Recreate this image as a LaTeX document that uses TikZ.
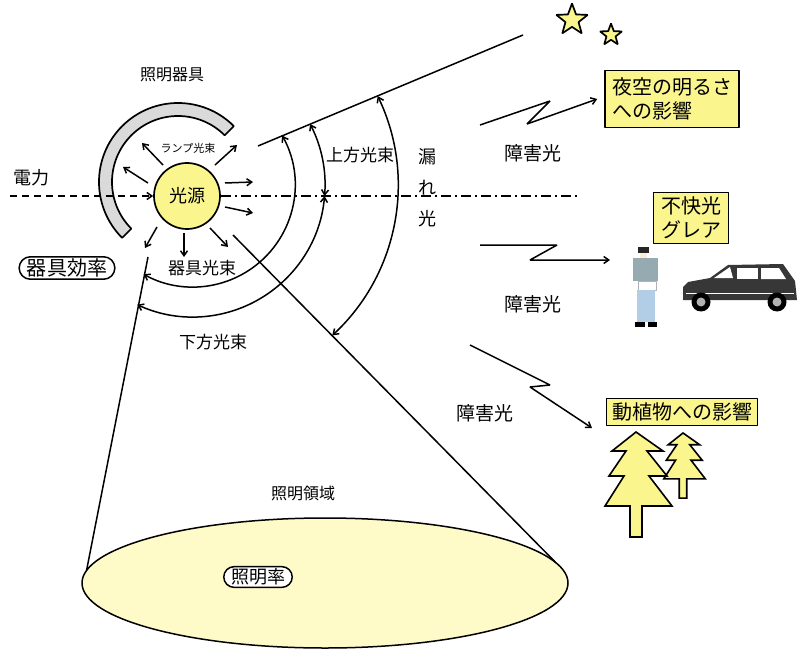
\documentclass[tikz,border=0pt]{standalone}
\usepackage{fontspec}
\setmainfont{Noto Sans CJK JP}
\usepackage{tikz}
\usetikzlibrary{arrows.meta,calc,shapes.geometric,shapes.misc,positioning}

\definecolor{lampyellow}{RGB}{250,245,140}
\definecolor{fieldyellow}{RGB}{255,251,200}
\definecolor{shadegray}{RGB}{218,218,218}
\definecolor{shirtgray}{RGB}{150,170,178}
\definecolor{jeansblue}{RGB}{178,206,230}
\definecolor{cardark}{RGB}{55,55,55}

\tikzset{
  firtree/.pic={
    \draw[line width=1.6pt,fill=lampyellow,line join=miter]
      (0,0) -- (27,-19) -- (11,-19) -- (31,-44) -- (13,-44) -- (36,-74) -- (6,-74) -- (6,-105)
      -- (-6,-105) -- (-6,-74) -- (-31,-74) -- (-12,-44) -- (-27,-44) -- (-10,-19) -- (-24,-19) -- cycle;
  }
}

\begin{document}
\begin{tikzpicture}[x=1pt,y=1pt,>={Straight Barb[length=5pt,width=7pt]},line join=bevel,line width=1.5pt,
  lbl/.style={inner sep=1pt,font=\fontsize{17}{17}\selectfont},
  effbox/.style={draw,rounded rectangle,fill=white,line width=1.5pt,inner xsep=3pt,inner ysep=2pt},
  infobox/.style={draw,fill=lampyellow,line width=1.5pt,inner sep=3pt,align=left,font=\fontsize{20}{24}\selectfont},
  zap/.style={->,line width=1.5pt}]
\useasboundingbox (0,0) rectangle (797,649);

% lit area on the ground
\node [ellipse,draw,fill=fieldyellow,minimum width=486pt,minimum height=130pt,inner sep=0,outer sep=0] at (325,66) (field) {};
\node [lbl,font=\fontsize{16}{16}\selectfont] at (303,156) (fieldl) {照明領域};
\node [effbox,font=\fontsize{18}{18}\selectfont] at (258,72) (util) {照明率};

% luminaire shade
\coordinate (rc) at (178,467);
\draw [fill=shadegray,line width=1.7pt] ($(rc)+(45:79)$) arc[start angle=45,end angle=225,radius=79]
  -- ($(rc)+(225:66)$) arc[start angle=225,end angle=45,radius=66] -- cycle;
\node [lbl,font=\fontsize{16}{16}\selectfont] at (172,574) (luml) {照明器具};

% lamp
\node [circle,draw,fill=lampyellow,minimum size=66pt,line width=1.7pt,font=\fontsize{18}{18}\selectfont] at (187,453) (lamp) {光源};
\node [font=\fontsize{11}{11}\selectfont] at (188,501) (lampl) {ランプ光束};
\foreach \sx/\sy/\ex/\ey in {-24/31/-45/53, -39/13/-64/29, 28/31/50/51, 38/13/66/14,
    38/-11/66/-17, -30/-31/-42/-52, -3/-37/-3/-61, 23/-32/41/-51}
  \draw [->] ($(lamp)+(\sx,\sy)$) -- ($(lamp)+(\ex,\ey)$);

\coordinate (pw) at (10,453);
\coordinate (axis) at (577,453);
\draw [->,dash pattern=on 7pt off 5pt] (pw) -- (lamp.west);
\draw [dash pattern=on 10pt off 4pt on 2pt off 4pt] (lamp.east) -- (axis);
\node [lbl,font=\fontsize{18}{18}\selectfont] at (31,471) (pwl) {電力};

\node [lbl] at (202,381) (fixl) {器具光束};
\node [effbox,font=\fontsize{20}{20}\selectfont] at (67,381) (eff) {器具効率};

% beam limits
\coordinate (up0) at (258,503);
\coordinate (up1) at (523,614);
\coordinate (dl) at (148,392);
\coordinate (dr) at (233,414);
\draw (up0) -- (up1);
\draw (dl) -- (field.177);
\draw (dr) -- (field.5);

% flux arcs
\coordinate (c) at (193,464);
\draw [<->] ($(c)+(29:102)$) arc[start angle=29,end angle=-119,radius=102];
\draw [<->] ($(c)+(27.5:132)$) arc[start angle=27.5,end angle=-4.8,radius=132];
\draw [<->] ($(c)+(-4.8:132)$) arc[start angle=-4.8,end angle=-115,radius=132];
\draw [<->] ($(c)+(25.7:205)$) arc[start angle=25.7,end angle=-47.2,radius=205];
\node [lbl] at (360,494) (upl) {上方光束};
\node [lbl] at (213,307) (downl) {下方光束};
\node [font=\fontsize{18}{31}\selectfont,align=center,inner sep=0] at (427,461) (leak) {漏\\れ\\光};

% stray light
\node [star,star points=5,star point ratio=2.4,minimum size=33pt,inner sep=0,draw,line width=1.7pt,fill=lampyellow] at (572,629) (st1) {};
\node [star,star points=5,star point ratio=2.4,minimum size=23pt,inner sep=0,draw,line width=1.7pt,fill=lampyellow] at (611,614) (st2) {};
\node [infobox,minimum width=134pt,minimum height=57pt] at (672,550) (sky) {夜空の明るさ\\への影響};
\node [infobox,minimum width=75pt,minimum height=51pt] at (691,431) (glare) {不快光\\グレア};
\node [infobox,minimum width=151pt,minimum height=27pt,inner ysep=1pt] at (682,237) (fauna) {動植物への影響};

\coordinate (z1) at (480,524);
\coordinate (z2) at (480,404);
\coordinate (g2) at (610,389);
\coordinate (z3) at (470,304);
\coordinate (g3) at (592,221);
\draw [zap] (z1) -- ++(70,24) -- ++(-23,-23) -- ([xshift=-7pt]sky.west);
\draw [zap] (z2) -- ++(77,0) -- ++(-27,-15) -- (g2);
\draw [zap] (z3) -- ++(80,-40) -- ++(-20,-2) -- (g3);
\node [lbl,font=\fontsize{19}{19}\selectfont] at (533,496) (h1) {障害光};
\node [lbl,font=\fontsize{19}{19}\selectfont] at (533,345) (h2) {障害光};
\node [lbl,font=\fontsize{19}{19}\selectfont] at (485,236) (h3) {障害光};

% pedestrian
\fill [black!85] (638,396) rectangle (649,402);
\fill [orange!15] (640,391) rectangle (647,396);
\fill [shirtgray] (633,368) rectangle (658,391);
\filldraw [fill=white,draw=gray!60,line width=0.5pt] (638,359) rectangle (656,368);
\fill [jeansblue] (637,327) rectangle (655,359);
\fill [black] (635,322) rectangle (645,327);
\fill [black] (648,322) rectangle (657,327);

% car
\fill [cardark] (683,349) -- (683,362) -- (688,367) -- (710,371) -- (728,384) -- (783,385) -- (795,368) -- (797,349) -- cycle;
\fill [white] (714,371) -- (730,382) -- (733,371) -- cycle;
\fill [white] (737,370) rectangle (758,381);
\fill [white] (761,370) -- (761,381) -- (779,381) -- (786,370) -- cycle;
\draw [white,line width=0.8pt] (686,356) -- (794,356);
\foreach \wx in {701,777} {
  \fill [black] (\wx,347) circle (9.5);
  \fill [gray!60] (\wx,347) circle (4.5);
}

% trees
\pic [scale=0.62] at (683,216) {firtree};
\pic at (636,217) {firtree};
\end{tikzpicture}
\end{document}
